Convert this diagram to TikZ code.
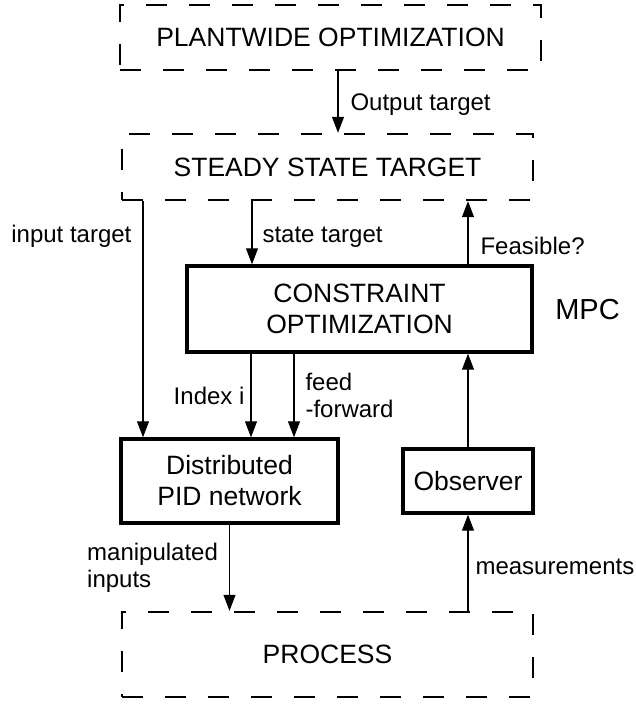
\documentclass[tikz,border=0pt]{standalone}
\usepackage{fontspec}
\setmainfont{Liberation Sans}
\usetikzlibrary{arrows.meta}

\newcommand{\boxfont}{\fontsize{26.5}{31}\selectfont}
\newcommand{\labfont}{\fontsize{24}{27}\selectfont}

\tikzset{
  level/.style={draw, dash pattern=on 21pt off 22pt, line width=2.4pt, font=\boxfont, align=center, inner sep=0pt},
  block/.style={draw, line width=3.4pt, font=\boxfont, align=center, inner sep=0pt},
  arr/.style={line width=1.1pt, -{Triangle[length=16pt,width=12pt]}},
  lab/.style={font=\labfont, inner sep=2pt, align=left}
}

\begin{document}
\begin{tikzpicture}[x=1pt,y=-1pt]
\useasboundingbox (0,0) rectangle (636,704);

\node[level, minimum width=421pt, minimum height=65pt] (plant) at (330.5,37.5) {PLANTWIDE OPTIMIZATION};
\node[level, minimum width=411pt, minimum height=66pt] (steady) at (327.5,167) {STEADY STATE TARGET};
\node[block, minimum width=345pt, minimum height=86pt] (cons) at (359.5,309) {CONSTRAINT\\OPTIMIZATION};
\node[block, minimum width=217pt, minimum height=84pt] (pid) at (229.5,481) {Distributed\\PID network};
\node[block, minimum width=130pt, minimum height=64pt] (obs) at (468,481) {Observer};
\node[level, minimum width=411pt, minimum height=85pt] (proc) at (327.5,654.5) {PROCESS};
\node[font=\fontsize{29}{33}\selectfont] (mpc) at (587.5,310) {MPC};

\draw[arr] (plant.south -| 338,0) -- node[lab, right=10pt, yshift=-3pt] {Output target} (steady.north -| 338,0);
\draw[arr] (steady.south -| 143,0) -- node[lab, left=9pt, pos=0.15] {input target} (pid.north -| 143,0);
\draw[arr] (steady.south -| 252,0) -- node[lab, right=8pt, yshift=-4pt] {state target} (cons.north -| 252,0);
\draw[arr] (cons.north -| obs) -- node[lab, right=10pt, pos=0.29] {Feasible?} (steady.south -| obs);
\draw[arr] (cons.south -| 251,0) -- node[lab, left=4pt] {Index i} (pid.north -| 251,0);
\draw[arr] (cons.south -| 294,0) -- node[lab, right=9pt] {feed\\-forward} (pid.north -| 294,0);
\draw[arr] (obs.north) -- (obs.north |- cons.south);
\draw[arr] (pid.south) -- node[lab, left=9pt] {manipulated\\inputs} (pid.south |- proc.north);
\draw[arr] (proc.north -| obs) -- node[lab, right=5pt, yshift=-4pt] {measurements} (obs.south);
\end{tikzpicture}
\end{document}
